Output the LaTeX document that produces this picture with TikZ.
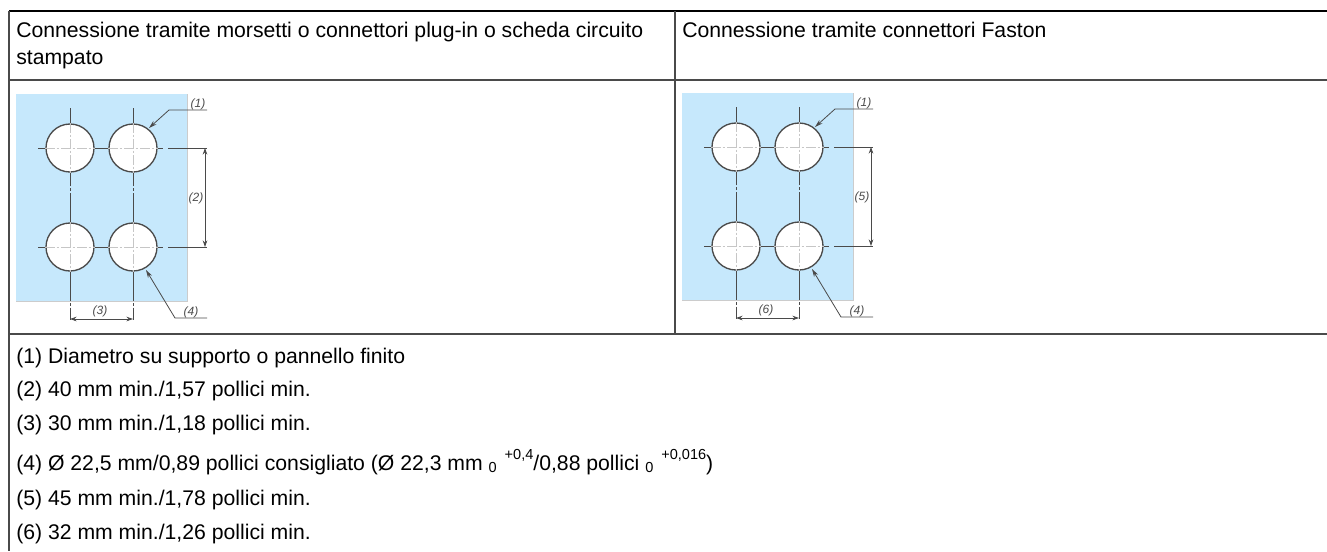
\documentclass[tikz,border=0pt]{standalone}
\usepackage{fontspec}
\setmainfont{Liberation Sans}
\usetikzlibrary{arrows.meta}
\definecolor{panelblue}{HTML}{C6E8FC}
\definecolor{rulegray}{HTML}{4A4A4A}
\newcommand{\tolsize}{\fontsize{10.9}{12}\selectfont}
\tikzset{
  tabletext/.style={anchor=base west,inner sep=0pt,font=\fontsize{15.9}{18}\selectfont},
  tablerule/.style={draw=rulegray,line width=1.1pt},
  hole/.style={circle,draw=rulegray,fill=white,line width=1pt,minimum size=36pt,inner sep=0pt},
  axis/.style={draw=rulegray,line width=0.7pt,dash pattern=on 22pt off 1.5pt on 2pt off 1.5pt},
  inaxis/.style={draw=gray!45,line width=0.7pt,dash pattern=on 7pt off 1.5pt on 2pt off 1.5pt},
  dim/.style={draw=rulegray,line width=0.6pt},
  dimarrow/.style={dim,{Stealth[length=5pt,width=3.5pt]}-{Stealth[length=5pt,width=3.5pt]}},
  leader/.style={dim,{Stealth[length=6pt,width=3.5pt]}-},
  calllabel/.style={inner sep=0pt,font=\fontsize{9}{10}\itshape\selectfont,text=black!70}
}
\begin{document}
\begin{tikzpicture}[x=0.75pt,y=-0.75pt]
  \useasboundingbox (0,0) rectangle (1327,551);
  % table rules
  \coordinate (tl) at (9,11);
  \coordinate (tr) at (1327,11);
  \coordinate (ml) at (9,80);
  \coordinate (mr) at (1327,80);
  \coordinate (bl) at (9,334);
  \coordinate (br) at (1327,334);
  \coordinate (el) at (9,551);
  \coordinate (ct) at (675,11);
  \coordinate (cb) at (675,334);
  \draw[tablerule,draw=black] (tl) -- (tr);
  \draw[tablerule] (ml) -- (mr);
  \draw[tablerule] (bl) -- (br);
  \draw[tablerule] (tl) -- (el);
  \draw[tablerule] (ct) -- (cb);
  % headers
  \node[tabletext] (headA) at (16,37) {Connessione tramite morsetti o connettori plug-in o scheda circuito};
  \node[tabletext] (headB) at (16,64) {stampato};
  \node[tabletext] (headC) at (682,37) {Connessione tramite connettori Faston};
  % the two drawings
  \foreach \p/\dx/\dy/\a/\b in {L/0/0/2/3,R/666/-1/5/6}
  {
    \begin{scope}[shift={(\dx,\dy)}]
      \fill[panelblue] (16,94) rectangle (187,301);
      \draw[gray!40,line width=0.4pt] (16,301) -- (187,301) -- (187,94);
      \node[hole] (\p a) at (70,148) {};
      \node[hole] (\p b) at (133,148) {};
      \node[hole] (\p c) at (70,247) {};
      \node[hole] (\p d) at (133,247) {};
      \coordinate (\p vat) at (70,108);
      \coordinate (\p vbt) at (133,108);
      \coordinate (\p vab) at (70,320);
      \coordinate (\p vbb) at (133,320);
      \coordinate (\p hat) at (38,148);
      \coordinate (\p hct) at (38,247);
      \coordinate (\p hae) at (163,148);
      \coordinate (\p hce) at (163,247);
      \coordinate (\p xas) at (168,148);
      \coordinate (\p xae) at (207,148);
      \coordinate (\p xcs) at (168,247);
      \coordinate (\p xce) at (207,247);
      \draw[axis] (\p vat) -- (\p a) (\p c) -- (\p a);
      \draw[axis] (\p vbt) -- (\p b) (\p d) -- (\p b);
      \draw[axis] (\p c) -- (\p vab);
      \draw[axis] (\p d) -- (\p vbb);
      \draw[dim] (\p hat) -- (\p a) (\p a) -- (\p b) (\p b) -- (\p hae);
      \draw[dim] (\p hct) -- (\p c) (\p c) -- (\p d) (\p d) -- (\p hce);
      \draw[dim] (\p xas) -- (\p xae);
      \draw[dim] (\p xcs) -- (\p xce);
      \foreach \h in {a,b,c,d}
      {
        \draw[inaxis] (\p\h.west) -- (\p\h.east);
        \draw[inaxis] (\p\h.north) -- (\p\h.south);
      }
      % dimensions
      \coordinate (\p da) at (205,148);
      \coordinate (\p db) at (205,247);
      \coordinate (\p dc) at (70,319);
      \coordinate (\p dd) at (133,319);
      \draw[dimarrow] (\p da) -- (\p db);
      \draw[dimarrow] (\p dc) -- (\p dd);
      \node[calllabel] (\p la) at (196,198) {(\a)};
      \node[calllabel] (\p lb) at (100,311) {(\b)};
      % call-outs
      \coordinate (\p oa) at (149,128);
      \coordinate (\p ob) at (169,110);
      \coordinate (\p oc) at (207,110);
      \coordinate (\p pa) at (146,270);
      \coordinate (\p pb) at (175,318);
      \coordinate (\p pc) at (207,318);
      \draw[leader] (\p oa) -- (\p ob) -- (\p oc);
      \draw[leader] (\p pa) -- (\p pb) -- (\p pc);
      \node[calllabel] (\p lc) at (198,104) {(1)};
      \node[calllabel] (\p ld) at (191,312) {(4)};
    \end{scope}
  }
  % notes
  \foreach \n/\y/\t in {one/363/{(1) Diametro su supporto o pannello finito},two/396/{(2) 40 mm min./1,57 pollici min.},three/430/{(3) 30 mm min./1,18 pollici min.},five/505/{(5) 45 mm min./1,78 pollici min.},six/539/{(6) 32 mm min./1,26 pollici min.}}
  {
    \node[tabletext] (note\n) at (16,\y) {\t};
  }
  \node[tabletext] (notefour) at (16,470) {(4) Ø 22,5 mm/0,89 pollici consigliato (Ø 22,3 mm {\tolsize\raisebox{-2pt}{0}} \hspace{1.5pt}{\tolsize\raisebox{8pt}{+0,4}}/0,88 pollici {\tolsize\raisebox{-2pt}{0}} \hspace{1.5pt}{\tolsize\raisebox{8pt}{+0,016}})};
\end{tikzpicture}
\end{document}
